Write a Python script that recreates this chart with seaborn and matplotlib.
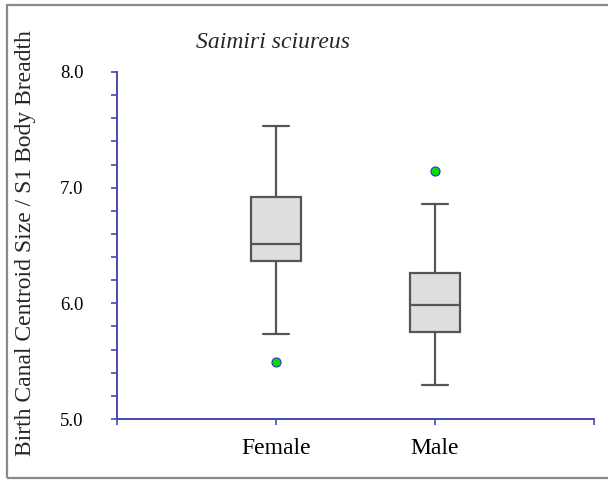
import matplotlib
matplotlib.use("Agg")
import matplotlib.pyplot as plt
from matplotlib.patches import Rectangle
from matplotlib.ticker import MultipleLocator
import numpy as np
import pandas as pd
import seaborn as sns

# Birth canal centroid size relative to S1 body breadth, by sex
groups = ["Female", "Male"]
female_values = [5.495, 5.735, 6.366, 6.44, 6.513, 6.70, 6.921, 7.20, 7.535]
male_values = [5.291, 5.55, 5.749, 5.86, 5.983, 6.10, 6.259, 6.858, 7.143]

title_text = "Saimiri sciureus"
y_label = "Birth Canal Centroid Size / S1 Body Breadth"
y_ticks = [5.0, 6.0, 7.0, 8.0]

df = pd.DataFrame({
    "sex": ["Female"] * len(female_values) + ["Male"] * len(male_values),
    "ratio": female_values + male_values,
})

sns.set_theme(style="white")
plt.rcParams["font.family"] = ["Liberation Serif", "DejaVu Serif"]

axis_blue = "#4848b0"
box_edge = "#555555"

fig = plt.figure(figsize=(6.08, 4.8), dpi=100)
ax = fig.add_axes([117 / 608, 61 / 480, 477 / 608, 347 / 480])

sns.boxplot(
    data=df, x="sex", y="ratio", order=groups, ax=ax,
    width=0.32, color="#dedede", saturation=1, linecolor=box_edge,
    linewidth=1.6, whis=1.5,
    flierprops=dict(marker="o", markersize=6.5, markerfacecolor="#00e000",
                    markeredgecolor="#3030c0", markeredgewidth=0.8),
)

ax.set_xlim(-1, 2)
ax.set_ylim(5.0, 8.0)
ax.set_xlabel("")
ax.set_ylabel("")

ax.set_yticks(y_ticks)
ax.set_yticklabels([f"{v:.1f}" for v in y_ticks], fontsize=13.5, color="black")
ax.yaxis.set_minor_locator(MultipleLocator(0.2))
ax.set_xticks([-1, 0, 1, 2])
ax.set_xticklabels(["", "Female", "Male", ""], fontsize=17, color="black")

ax.tick_params(axis="y", which="both", direction="out", length=4,
               width=1.2, color=axis_blue, left=True, pad=20)
ax.tick_params(axis="x", which="major", direction="out", length=4,
               width=1.2, color=axis_blue, bottom=True, pad=10)

for side in ["top", "right"]:
    ax.spines[side].set_visible(False)
for side in ["left", "bottom"]:
    ax.spines[side].set_color(axis_blue)
    ax.spines[side].set_linewidth(1.4)

fig.text(273 / 608, 1 - 42 / 480, title_text, fontsize=17, style="italic",
         ha="center", va="center")
fig.text(26 / 608, 1 - 243 / 480, y_label, fontsize=17, rotation=90,
         ha="center", va="center")

# thin gray frame round the whole figure
fig.patches.append(Rectangle((7 / 608, 2 / 480), 610 / 608, 473 / 480,
                             transform=fig.transFigure, fill=False,
                             edgecolor="#8a8a8a", linewidth=1.6))

fig.savefig("out.png", dpi=100, facecolor="white")
